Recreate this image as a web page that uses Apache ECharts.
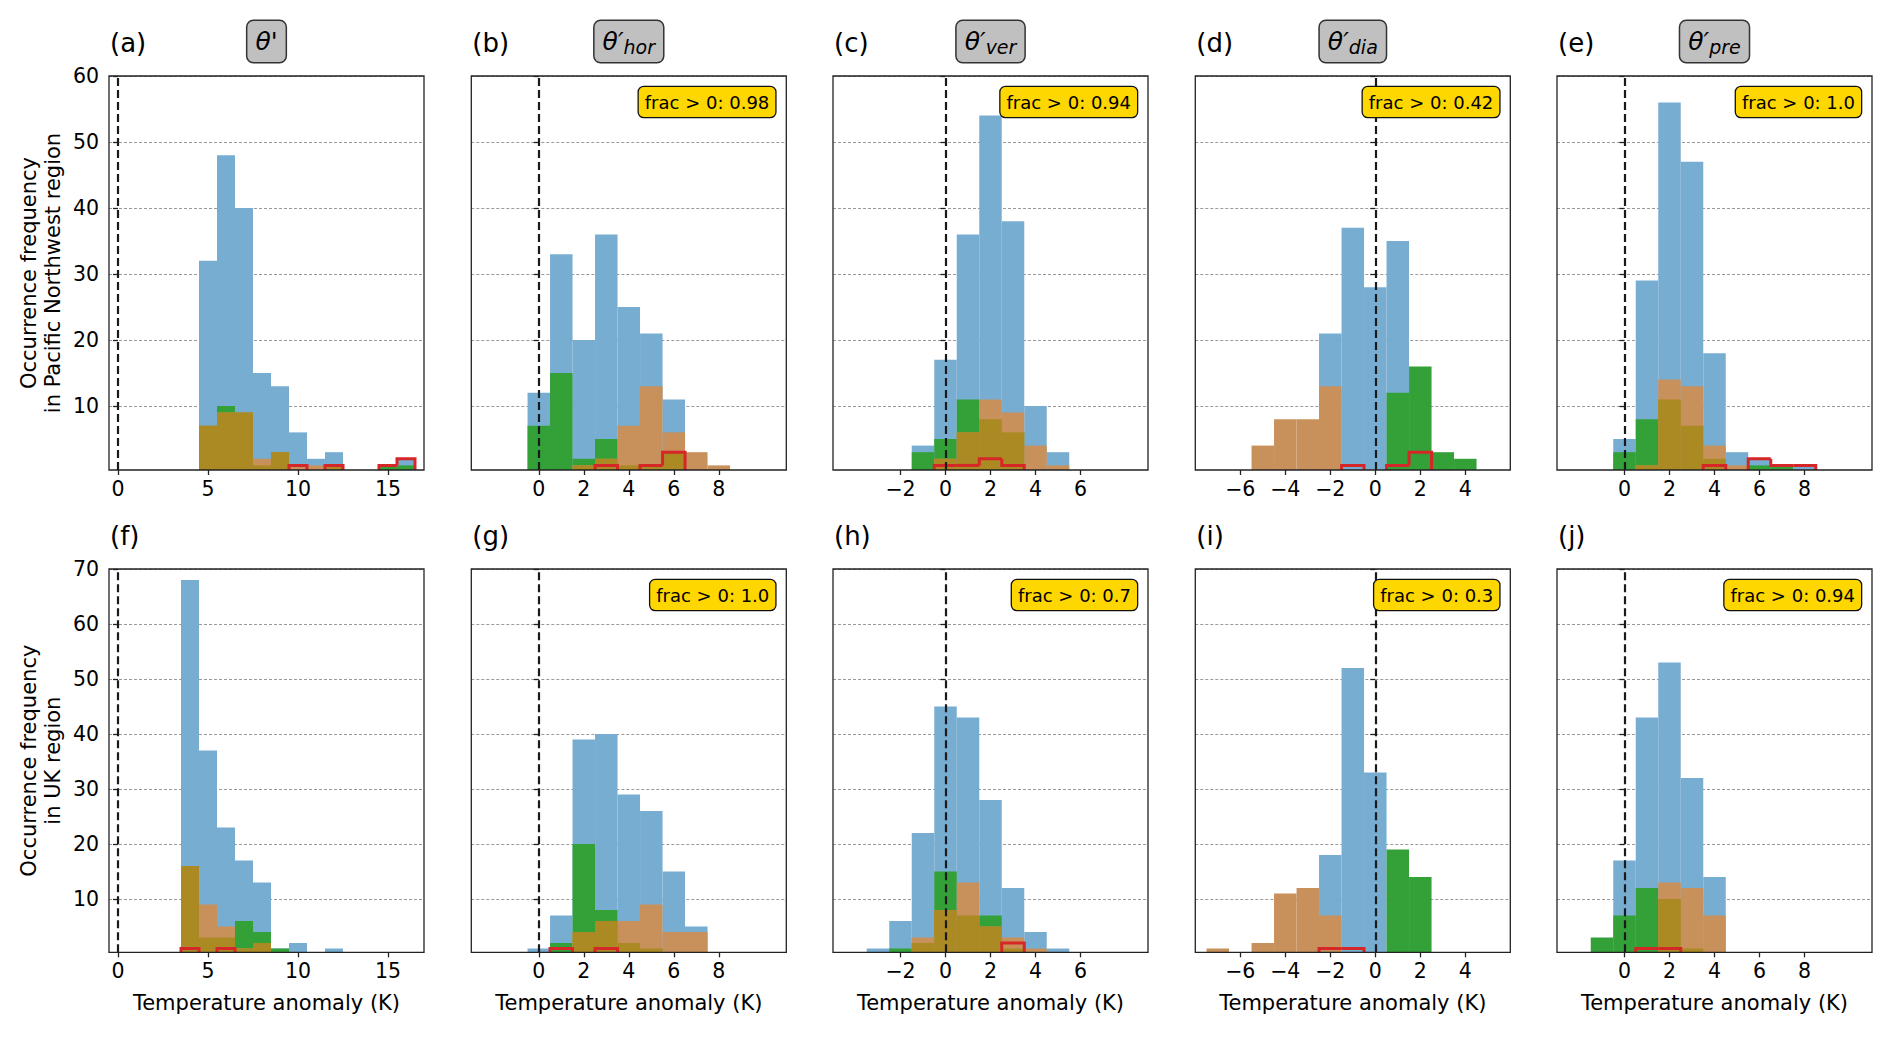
<!DOCTYPE html>
<html><head><meta charset="utf-8">
<script src="https://cdn.jsdelivr.net/npm/echarts@6/dist/echarts.min.js"></script>
<style>html,body{margin:0;padding:0;background:#fff}#c{width:1892px;height:1047px}</style>
</head><body><div id="c"></div>
<script>
// ---------------- data (bin centres in K, counts per bin) ----------------
const A_BINS  = [5,6,7,8,9,10,11,12,13,14,15,16];
const A_BLUE  = [32,48,40,15,13,6,2,3,0,0,1,2];
const A_GREEN = [7,10,9,1,3,0,0,1,0,0,1,1];
const A_BROWN = [7,9,9,2,3,1,1,1,0,0,0,0];
const A_RED   = [0,0,0,0,0,1,0,1,0,0,1,2];

const B_BINS  = [0,1,2,3,4,5,6,7,8];
const B_BLUE  = [12,33,20,36,25,21,11,0,0];
const B_GREEN = [7,15,2,5,1,1,3,0,0];
const B_BROWN = [0,0,1,2,7,13,6,3,1];
const B_RED   = [0,0,0,1,0,1,3,0,0];

const C_BINS  = [-1,0,1,2,3,4,5];
const C_BLUE  = [4,17,36,54,38,10,3];
const C_GREEN = [3,5,11,8,6,0,0];
const C_BROWN = [0,2,6,11,9,4,1];
const C_RED   = [0,1,1,2,1,0,0];

const D_BINS  = [-5,-4,-3,-2,-1,0,1,2,3,4];
const D_BLUE  = [0,0,0,21,37,28,35,0,0,0];
const D_GREEN = [0,0,0,0,0,0,12,16,3,2];
const D_BROWN = [4,8,8,13,0,0,0,0,0,0];
const D_RED   = [0,0,0,0,1,0,1,3,0,0];

const E_BINS  = [0,1,2,3,4,5,6,7,8];
const E_BLUE  = [5,29,56,47,18,3,2,1,1];
const E_GREEN = [3,8,11,7,2,0,1,1,0];
const E_BROWN = [0,1,14,13,4,1,0,0,0];
const E_RED   = [0,0,0,0,1,0,2,1,1];

const F_BINS  = [4,5,6,7,8,9,10,11,12];
const F_BLUE  = [68,37,23,17,13,1,2,0,1];
const F_GREEN = [16,3,3,6,4,1,0,0,0];
const F_BROWN = [16,9,5,1,2,0,0,0,0];
const F_RED   = [1,0,1,0,0,0,0,0,0];

const G_BINS  = [0,1,2,3,4,5,6,7];
const G_BLUE  = [1,7,39,40,29,26,15,5];
const G_GREEN = [0,2,20,8,2,1,0,0];
const G_BROWN = [0,0,4,6,6,9,4,4];
const G_RED   = [0,1,0,1,0,0,0,0];

const H_BINS  = [-3,-2,-1,0,1,2,3,4,5];
const H_BLUE  = [1,6,22,45,43,28,12,4,1];
const H_GREEN = [0,1,2,15,7,7,1,0,0];
const H_BROWN = [0,0,3,8,13,5,3,1,0];
const H_RED   = [0,0,0,0,0,0,2,0,0];

const I_BINS  = [-7,-6,-5,-4,-3,-2,-1,0,1,2];
const I_BLUE  = [0,0,0,0,0,18,52,33,0,0];
const I_GREEN = [0,0,0,0,0,0,0,0,19,14];
const I_BROWN = [1,0,2,11,12,7,0,0,0,0];
const I_RED   = [0,0,0,0,0,1,1,0,0,0];

const J_BINS  = [-1,0,1,2,3,4];
const J_BLUE  = [0,17,43,53,32,14];
const J_GREEN = [3,7,12,10,1,0];
const J_BROWN = [0,0,0,13,12,7];
const J_RED   = [0,0,1,1,0,0];

const PANEL_LETTERS = ['(a)','(b)','(c)','(d)','(e)','(f)','(g)','(h)','(i)','(j)'];
const TITLE_MAIN = ["θ'", 'θ′', 'θ′', 'θ′', 'θ′'];
const TITLE_SUB  = ['', 'hor', 'ver', 'dia', 'pre'];
const FRAC_TEXT  = [null,'frac > 0: 0.98','frac > 0: 0.94','frac > 0: 0.42','frac > 0: 1.0',
                    null,'frac > 0: 1.0','frac > 0: 0.7','frac > 0: 0.3','frac > 0: 0.94'];
const X_TICKS = [[0,5,10,15],[0,2,4,6,8],[-2,0,2,4,6],[-6,-4,-2,0,2,4],[0,2,4,6,8]];
const X_RANGE = [[-0.5,17],[-3,11],[-5,9],[-8,6],[-3,11]];
const Y_TICKS_TOP = [10,20,30,40,50,60];
const Y_TICKS_BOTTOM = [10,20,30,40,50,60,70];
const Y_TITLES = ['Occurrence frequency\nin Pacific Northwest region', 'Occurrence frequency\nin UK region'];
const X_TITLE = 'Temperature anomaly (K)';

const PANELS = [
  [A_BINS,A_BLUE,A_GREEN,A_BROWN,A_RED],[B_BINS,B_BLUE,B_GREEN,B_BROWN,B_RED],
  [C_BINS,C_BLUE,C_GREEN,C_BROWN,C_RED],[D_BINS,D_BLUE,D_GREEN,D_BROWN,D_RED],
  [E_BINS,E_BLUE,E_GREEN,E_BROWN,E_RED],[F_BINS,F_BLUE,F_GREEN,F_BROWN,F_RED],
  [G_BINS,G_BLUE,G_GREEN,G_BROWN,G_RED],[H_BINS,H_BLUE,H_GREEN,H_BROWN,H_RED],
  [I_BINS,I_BLUE,I_GREEN,I_BROWN,I_RED],[J_BINS,J_BLUE,J_GREEN,J_BROWN,J_RED]
];

// ---------------- layout & style ----------------
const FONT = 'DejaVu Sans';
const COL_LEFT = [109, 471.3, 833, 1195.3, 1557];
const PW = 315;
const ROW_TOP = [76, 569];
const ROW_H = [394, 383.3];
const Y_MIN = 0.3;
const Y_MAX = [60, 70];
const COL_BLUE = '#78add2', COL_GREEN = '#33a038', COL_BROWN = '#c8905a', COL_OLIVE = '#ab8a23', COL_RED = '#d62728';
const AX = '#222';

function barItem(color) {
  return function (params, api) {
    const x = api.value(0), v = api.value(1);
    if (!v) return;
    const p0 = api.coord([x - 0.5, v]);
    const p1 = api.coord([x + 0.5, 0]);
    return { type: 'rect', shape: { x: p0[0], y: p0[1], width: p1[0] - p0[0], height: p1[1] - p0[1] },
             style: { fill: color } };
  };
}
function stepItem(params, api) {
  const x = api.value(0), v = api.value(1), prev = api.value(2), next = api.value(3);
  if (!v) return;
  const pts = [api.coord([x - 0.5, prev]), api.coord([x - 0.5, v]), api.coord([x + 0.5, v])];
  if (!next) pts.push(api.coord([x + 0.5, 0]));
  return { type: 'polyline', shape: { points: pts },
           style: { stroke: COL_RED, lineWidth: 3, fill: 'none', lineJoin: 'miter' } };
}
const minus = v => String(v).replace('-', '\u2212');

const grids = [], xAxes = [], yAxes = [], series = [], graphics = [];
PANELS.forEach((pd, p) => {
  const r = p < 5 ? 0 : 1, c = p % 5;
  const left = COL_LEFT[c], top = ROW_TOP[r], h = ROW_H[r];
  grids.push({ left: left, top: top, width: PW, height: h, show: false });
  xAxes.push({
    type: 'value', gridIndex: p, min: X_RANGE[c][0], max: X_RANGE[c][1],
    axisLine: { show: false },
    axisTick: { show: true, length: 5, customValues: X_TICKS[c], lineStyle: { color: AX, width: 1.3 } },
    axisLabel: { show: true, customValues: X_TICKS[c], fontSize: 20.5, color: '#000', margin: 8,
                 fontFamily: FONT, formatter: minus },
    splitLine: { show: false }
  });
  const yt = r === 0 ? Y_TICKS_TOP : Y_TICKS_BOTTOM;
  yAxes.push({
    type: 'value', gridIndex: p, min: Y_MIN, max: Y_MAX[r],
    axisLine: { show: false },
    axisTick: { show: true, length: 5, customValues: yt, lineStyle: { color: AX, width: 1.3 } },
    axisLabel: { show: c === 0, customValues: yt, fontSize: 20.5, color: '#000', margin: 10, fontFamily: FONT },
    splitLine: { show: true, lineStyle: { color: '#9a9a9a', width: 1, type: [3, 2] } }
  });
  const [bins, blue, green, brown, red] = pd;
  const common = { type: 'custom', coordinateSystem: 'cartesian2d', xAxisIndex: p, yAxisIndex: p,
                   clip: true, silent: true, encode: { x: 0, y: 1 } };
  series.push(Object.assign({}, common, {
    renderItem: barItem(COL_BLUE), data: bins.map((x, i) => [x, blue[i]]),
    markLine: { silent: true, symbol: ['none', 'none'], label: { show: false },
                lineStyle: { color: '#1a1a1a', width: 2.2, type: [8, 4] }, data: [{ xAxis: 0 }] }
  }));
  series.push(Object.assign({}, common, { renderItem: barItem(COL_GREEN), data: bins.map((x, i) => [x, green[i]]) }));
  series.push(Object.assign({}, common, { renderItem: barItem(COL_BROWN), data: bins.map((x, i) => [x, brown[i]]) }));
  series.push(Object.assign({}, common, { renderItem: barItem(COL_OLIVE), data: bins.map((x, i) => [x, Math.min(green[i], brown[i])]) }));
  series.push(Object.assign({}, common, {
    renderItem: stepItem, dimensions: ['x', 'v', 'prev', 'next'],
    data: bins.map((x, i) => [x, red[i], i > 0 ? red[i - 1] : 0, i < red.length - 1 ? red[i + 1] : 0])
  }));

  graphics.push({ type: 'rect', silent: true, z: 100,
    shape: { x: left, y: top, width: PW, height: h },
    style: { fill: 'none', stroke: AX, lineWidth: 1.3 } });
  graphics.push({ type: 'text', silent: true, z: 100, x: left + 1, y: top - 33,
    style: { text: PANEL_LETTERS[p], fontSize: 26, fontFamily: FONT, fill: '#000', align: 'left', verticalAlign: 'middle' } });
  if (FRAC_TEXT[p]) {
    graphics.push({ type: 'text', silent: true, z: 110, x: left + PW - 11, y: top + 11,
      style: { text: FRAC_TEXT[p], fontSize: 18, fontFamily: FONT, fill: '#000', align: 'right', verticalAlign: 'top',
               lineHeight: 20, backgroundColor: '#ffd700', borderColor: '#111', borderWidth: 1.3, borderRadius: 5,
               padding: [5, 6, 5, 6] } });
  }
  if (r === 0) {
    const txt = TITLE_SUB[c] ? '{t|' + TITLE_MAIN[c] + '}{s|' + TITLE_SUB[c] + '}' : '{t|' + TITLE_MAIN[c] + '}';
    graphics.push({ type: 'text', silent: true, z: 100, x: left + PW / 2, y: 21,
      style: { text: txt, align: 'center', verticalAlign: 'top',
               backgroundColor: '#c0c0c0', borderColor: '#333', borderWidth: 1.5, borderRadius: 6,
               padding: [5, 8, 6, 8],
               rich: { t: { fontSize: 25, fontStyle: 'italic', fontFamily: FONT, fill: '#000', lineHeight: 30 },
                       s: { fontSize: 19, fontStyle: 'italic', fontFamily: FONT, fill: '#000', lineHeight: 20, verticalAlign: 'bottom' } } } });
  }
  if (r === 1) {
    graphics.push({ type: 'text', silent: true, z: 100, x: left + PW / 2, y: 1003,
      style: { text: X_TITLE, fontSize: 21, fontFamily: FONT, fill: '#000', align: 'center', verticalAlign: 'middle' } });
  }
});
[0, 1].forEach(r => {
  graphics.push({ type: 'text', silent: true, z: 100, x: 41, y: ROW_TOP[r] + ROW_H[r] / 2, rotation: Math.PI / 2,
    style: { text: Y_TITLES[r], fontSize: 21, lineHeight: 24, fontFamily: FONT, fill: '#000', align: 'center', verticalAlign: 'middle' } });
});

const chart = echarts.init(document.getElementById('c'), null, { renderer: 'svg' });
chart.setOption({
  animation: false,
  backgroundColor: '#fff',
  textStyle: { fontFamily: FONT },
  grid: grids, xAxis: xAxes, yAxis: yAxes, series: series,
  graphic: { elements: graphics }
});
</script>
</body></html>
